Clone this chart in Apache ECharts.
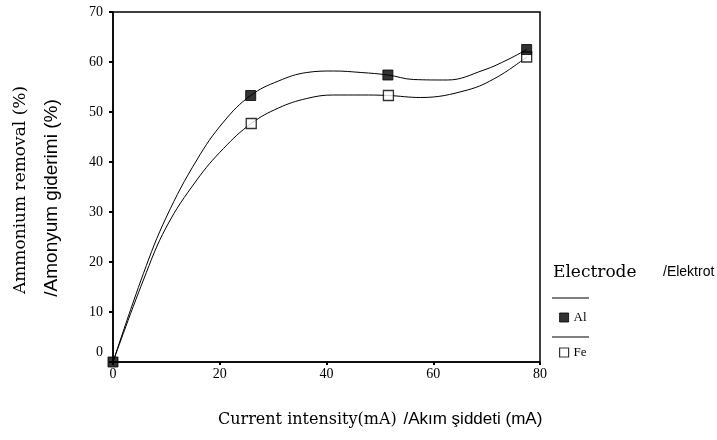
<!DOCTYPE html>
<html>
<head>
<meta charset="utf-8">
<script src="https://cdn.jsdelivr.net/npm/echarts@6/dist/echarts.min.js"></script>
<style>
  html, body { margin: 0; padding: 0; background: #fff; }
  #chart { width: 717px; height: 440px; }
</style>
</head>
<body>
<div id="chart"></div>
<script>
// measured points (current intensity mA, removal %)
const alPoints = [[0, 0], [25.8, 53.3], [51.5, 57.4], [77.5, 62.5]]
const fePoints = [[0, 0], [25.9, 47.7], [51.6, 53.3], [77.5, 61]]

// fitted curves
const alCurve = [[0, 0], [5.7, 17.7], [10, 29], [15.7, 40.4], [20.7, 48], [25.8, 53.3],
  [31, 56.2], [36.3, 57.9], [41.3, 58.2], [46.5, 57.9], [51.5, 57.4], [56.3, 56.5],
  [62.6, 56.4], [69.5, 58.4], [74, 60.5], [77.5, 62.5]]
const feCurve = [[0, 0], [5.7, 16.4], [10, 27], [15.7, 36.4], [20.7, 42.7], [25.9, 47.7],
  [31, 50.8], [36.3, 52.7], [41.3, 53.4], [46.5, 53.4], [51.6, 53.3], [57.6, 52.9],
  [66.4, 54.4], [72, 57], [77.5, 61]]

const xTicks = [0, 20, 40, 60, 80]
const yTicks = [0, 10, 20, 30, 40, 50, 60, 70]

const serif = "'DejaVu Serif', 'Liberation Serif', serif"
const tickFont = "'Liberation Serif', serif"
const sans = "'Liberation Sans', Arial, sans-serif"

const chart = echarts.init(document.getElementById("chart"))

chart.setOption({
  backgroundColor: "#fff",
  animation: false,
  grid: {
    left: 113, right: 177, top: 12, bottom: 78,
    show: true, borderColor: "#000", borderWidth: 1.5,
  },
  xAxis: {
    type: "value",
    min: xTicks[0], max: xTicks[xTicks.length - 1], interval: 20,
    axisLine: { lineStyle: { color: "#000", width: 1.5 } },
    axisTick: { show: true, length: 3, lineStyle: { color: "#000", width: 2 } },
    splitLine: { show: false },
    axisLabel: { color: "#000", fontFamily: tickFont, fontSize: 14, margin: 5 },
  },
  yAxis: {
    type: "value",
    min: yTicks[0], max: yTicks[yTicks.length - 1], interval: 10,
    axisLine: { lineStyle: { color: "#000", width: 1.5 } },
    axisTick: { show: true, inside: false, length: 4, lineStyle: { color: "#000", width: 2 } },
    splitLine: { show: false },
    axisLabel: {
      color: "#000", fontFamily: tickFont, fontSize: 14, margin: 10,
      formatter: (v) => (v === 0 ? "{z|0}" : String(v)),
      rich: { z: { fontFamily: tickFont, fontSize: 14, color: "#000", padding: [0, 0, 20, 0] } },
    },
  },
  legend: {
    orient: "vertical",
    left: 554, top: 306,
    itemGap: 22,
    itemWidth: 9, itemHeight: 9,
    textStyle: { fontFamily: tickFont, fontSize: 13, color: "#000" },
    data: [
      { name: "Al", icon: "rect", itemStyle: { color: "#000", borderColor: "#000", borderWidth: 1 } },
      { name: "Fe", icon: "rect", itemStyle: { color: "#fff", borderColor: "#000", borderWidth: 1.2 } },
    ],
  },
  graphic: [
    // x axis title
    {
      type: "text", left: 218, top: 411,
      style: { text: "{a|Current intensity(mA)}  {b|/Akım şiddeti (mA)}", rich: {
        a: { fontFamily: serif, fontSize: 16, fill: "#000" },
        b: { fontFamily: sans, fontSize: 17, fill: "#000" },
      } },
    },
    // legend heading
    {
      type: "text", left: 553, top: 264,
      style: { text: "Electrode", fontFamily: serif, fontSize: 17, fill: "#000" },
    },
    {
      type: "text", left: 663, top: 265,
      style: { text: "/Elektrot", fontFamily: sans, fontSize: 14, fill: "#000" },
    },
    { type: "line", shape: { x1: 552, y1: 298, x2: 589, y2: 298 }, style: { stroke: "#000", lineWidth: 1 } },
    { type: "line", shape: { x1: 552, y1: 337, x2: 589, y2: 337 }, style: { stroke: "#000", lineWidth: 1 } },
    // y axis title (two lines)
    {
      type: "text", x: 21, y: 190, rotation: Math.PI / 2,
      style: { text: "Ammonium removal (%)", fontFamily: serif, fontSize: 17, fill: "#000", align: "center", verticalAlign: "middle" },
    },
    {
      type: "text", x: 52, y: 198, rotation: Math.PI / 2,
      style: { text: "/Amonyum giderimi (%)", fontFamily: sans, fontSize: 19, fill: "#000", align: "center", verticalAlign: "middle" },
    },
  ],
  series: [
    {
      name: "Al curve", type: "line", data: alCurve, smooth: 0.4, showSymbol: false,
      lineStyle: { color: "#000", width: 1 }, silent: true, z: 2,
    },
    {
      name: "Fe curve", type: "line", data: feCurve, smooth: 0.4, showSymbol: false,
      lineStyle: { color: "#000", width: 1 }, silent: true, z: 2,
    },
    {
      name: "Al", type: "scatter", data: alPoints, symbol: "rect", symbolSize: 10, clip: false,
      itemStyle: { color: "#000", borderColor: "#000", borderWidth: 1 }, z: 4,
    },
    {
      name: "Fe", type: "scatter", data: fePoints.slice(1), symbol: "rect", symbolSize: 10, clip: false,
      itemStyle: { color: "#fff", borderColor: "#000", borderWidth: 1.3 }, z: 3,
    },
  ],
})
</script>
</body>
</html>
